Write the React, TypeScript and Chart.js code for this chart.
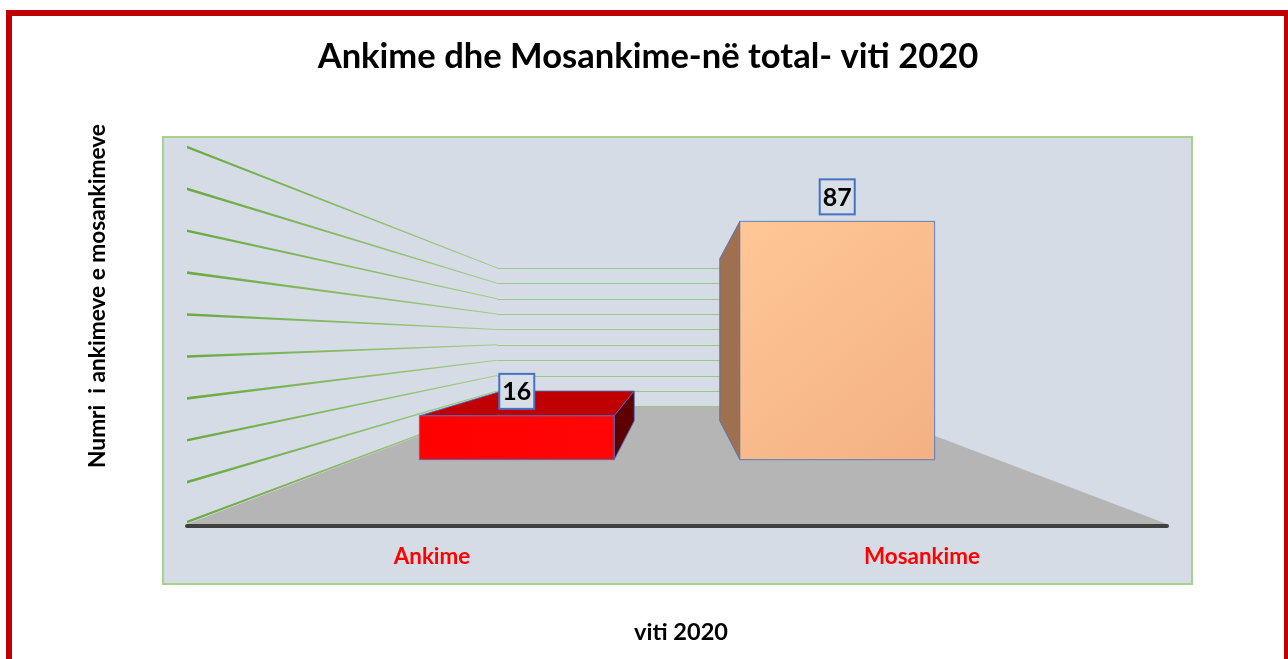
import { useEffect, useRef } from 'react';
import { Chart, registerables } from 'chart.js';

Chart.register(...registerables);

// ---- data ----
const categories = ['Ankime', 'Mosankime'];
const values = [16, 87];
const yTickValues = [0, 10, 20, 30, 40, 50, 60, 70, 80, 90];
const titleText = 'Ankime dhe Mosankime-në total- viti 2020';
const yAxisTitle = 'Numri  i ankimeve e mosankimeve';
const xAxisTitle = 'viti 2020';

// ---- styles ----
const FONT = 'Lato, "Open Sans", "Noto Sans", sans-serif';
const S_BACK = 0.367;
const S_BAR_FRONT = 0.654;
const S_BAR_BACK = 0.445;
const VY_FRAC = 0.507;
const barStyles = [
  { front: ['#FF0000', '#FF0606'], top: '#C00000', side: '#5E0000' },
  { front: ['#FFC796', '#F4B183'], top: '#E09A6A', side: '#9E7050' },
];

function fitSize(ctx: CanvasRenderingContext2D, text: string, target: number, weight = 'bold') {
  ctx.font = `${weight} 100px ${FONT}`;
  const w = ctx.measureText(text).width;
  return (100 * target) / w;
}

function poly(ctx: CanvasRenderingContext2D, pts: number[][], fill: string | CanvasGradient, stroke?: string) {
  ctx.beginPath();
  ctx.moveTo(pts[0][0], pts[0][1]);
  for (let i = 1; i < pts.length; i++) ctx.lineTo(pts[i][0], pts[i][1]);
  ctx.closePath();
  ctx.fillStyle = fill;
  ctx.fill();
  if (stroke) {
    ctx.strokeStyle = stroke;
    ctx.lineWidth = 1;
    ctx.stroke();
  }
}

function geom(chart: any) {
  const a = chart.chartArea;
  const vx = (a.left + a.right) / 2;
  const vy = a.top + VY_FRAC * (a.bottom - a.top);
  const P = (fx: number, fy: number, s: number) => [vx + (fx - vx) * s, vy + (fy - vy) * s];
  return { a, vx, vy, P };
}

const scenePlugin = {
  id: 'scene3d',
  beforeDatasetsDraw(chart: any) {
    const ctx: CanvasRenderingContext2D = chart.ctx;
    const { a, P } = geom(chart);
    const y = chart.scales.y;
    ctx.save();
    // outer red frame
    ctx.strokeStyle = '#C00000';
    ctx.lineWidth = 6;
    ctx.strokeRect(9, 13, 1278, 720);
    // plot area
    const px = a.left - 24, py = a.top - 10, pw = a.right - a.left + 49, ph = a.bottom - a.top + 70;
    ctx.fillStyle = '#D6DCE5';
    ctx.fillRect(px, py, pw, ph);
    ctx.strokeStyle = '#A9D18E';
    ctx.lineWidth = 2;
    ctx.strokeRect(px, py, pw, ph);
    // floor
    const y0 = y.getPixelForValue(0);
    poly(ctx, [[a.left, y0], [a.right, y0], P(a.right, y0, S_BACK), P(a.left, y0, S_BACK)], '#B5B5B5');
    // back wall gridlines
    ctx.strokeStyle = '#9DC783';
    ctx.lineWidth = 1;
    for (const v of yTickValues) {
      const fy = y.getPixelForValue(v);
      const [x1, yb] = P(a.left, fy, S_BACK);
      const [x2] = P(a.right, fy, S_BACK);
      ctx.beginPath();
      ctx.moveTo(x1, Math.round(yb) + 0.5);
      ctx.lineTo(x2, Math.round(yb) + 0.5);
      ctx.stroke();
    }
    // left wall gridlines (tapered)
    for (const v of yTickValues) {
      const fy = y.getPixelForValue(v) - (v === 0 ? 2 : 0);
      const [x2, y2] = P(a.left, fy, S_BACK);
      const x1 = a.left;
      const g = ctx.createLinearGradient(x1, 0, x2, 0);
      g.addColorStop(0, '#6BAA42');
      g.addColorStop(1, '#A2CC88');
      poly(ctx, [[x1, fy - 1.3], [x2, y2 - 0.5], [x2, y2 + 0.5], [x1, fy + 1.3]], g);
    }
    // floor front edge
    ctx.strokeStyle = '#404040';
    ctx.lineWidth = 4;
    ctx.lineCap = 'round';
    ctx.beginPath();
    ctx.moveTo(a.left, y0 + 2);
    ctx.lineTo(a.right, y0 + 2);
    ctx.stroke();
    ctx.restore();
  },
  afterDatasetsDraw(chart: any) {
    const ctx: CanvasRenderingContext2D = chart.ctx;
    const { vx, vy, P } = geom(chart);
    const meta = chart.getDatasetMeta(0);
    const outline = 'rgba(68,114,196,0.85)';
    ctx.save();
    meta.data.forEach((bar: any, i: number) => {
      const { x, y: top, base, width } = bar.getProps(['x', 'y', 'base', 'width'], true);
      const st = barStyles[i];
      const l = x - width / 2, r = x + width / 2;
      const F = (fx: number, fy: number) => P(fx, fy, S_BAR_FRONT);
      const B = (fx: number, fy: number) => P(fx, fy, S_BAR_BACK);
      if (top > vy) poly(ctx, [F(l, top), B(l, top), B(r, top), F(r, top)], st.top, outline);
      if (r < vx) poly(ctx, [F(r, top), B(r, top), B(r, base), F(r, base)], st.side, outline);
      else if (l > vx) poly(ctx, [F(l, top), B(l, top), B(l, base), F(l, base)], st.side, outline);
      const [fl, ft] = F(l, top);
      const [fr, fb] = F(r, base);
      const g = ctx.createLinearGradient(fl, ft, fr, fb);
      g.addColorStop(0, st.front[0]);
      g.addColorStop(1, st.front[1]);
      poly(ctx, [[fl, ft], [fr, ft], [fr, fb], [fl, fb]], g, outline);
      // value label box
      const label = String(chart.data.datasets[0].data[i]);
      ctx.font = `bold 25px ${FONT}`;
      const tw = ctx.measureText(label).width;
      const bw = tw + 6, bh = 35;
      const cx = (fl + fr) / 2;
      const bb = ft - 7;
      ctx.fillStyle = '#D9DEE7';
      ctx.fillRect(cx - bw / 2, bb - bh, bw, bh);
      ctx.strokeStyle = '#4472C4';
      ctx.lineWidth = 2;
      ctx.strokeRect(cx - bw / 2, bb - bh, bw, bh);
      ctx.fillStyle = '#000000';
      ctx.textAlign = 'center';
      ctx.textBaseline = 'middle';
      ctx.fillText(label, cx, bb - bh / 2 + 1);
    });
    ctx.restore();
  },
  afterDraw(chart: any) {
    const ctx: CanvasRenderingContext2D = chart.ctx;
    const a = chart.chartArea;
    const xs = chart.scales.x;
    ctx.save();
    ctx.textAlign = 'center';
    ctx.textBaseline = 'middle';
    ctx.fillStyle = '#000000';
    // title
    let sz = fitSize(ctx, titleText, 661);
    ctx.font = `bold ${sz}px ${FONT}`;
    ctx.fillText(titleText, 648, 57);
    // x axis title
    sz = fitSize(ctx, xAxisTitle, 94);
    ctx.font = `bold ${sz}px ${FONT}`;
    ctx.fillText(xAxisTitle, 681, 632);
    // y axis title
    sz = fitSize(ctx, yAxisTitle, 344);
    ctx.font = `bold ${sz}px ${FONT}`;
    ctx.save();
    ctx.translate(98, 296);
    ctx.rotate(-Math.PI / 2);
    ctx.fillText(yAxisTitle, 0, 0);
    ctx.restore();
    // category labels
    sz = fitSize(ctx, categories[1], 116);
    ctx.font = `bold ${sz}px ${FONT}`;
    ctx.fillStyle = '#FF0000';
    categories.forEach((c, i) => {
      ctx.fillText(c, xs.getPixelForValue(i), a.bottom + 33);
    });
    ctx.restore();
  },
};

export default function App() {
  const ref = useRef<HTMLCanvasElement | null>(null);
  useEffect(() => {
    if (!ref.current) return;
    const chart = new Chart(ref.current, {
      type: 'bar',
      data: {
        labels: categories,
        datasets: [
          {
            label: 'viti 2020',
            data: values,
            backgroundColor: 'rgba(0,0,0,0)',
            borderWidth: 0,
            categoryPercentage: 1,
            barPercentage: 0.608,
          },
        ],
      },
      options: {
        responsive: false,
        animation: false,
        devicePixelRatio: 1,
        layout: { padding: { left: 187, right: 121, top: 147, bottom: 135 } },
        plugins: { legend: { display: false }, tooltip: { enabled: false }, title: { display: false } },
        scales: {
          x: { display: false },
          y: { display: false, min: 0, max: 90, ticks: { stepSize: 10 } },
        },
      },
      plugins: [scenePlugin],
    });
    return () => chart.destroy();
  }, []);
  return (
    <div style={{ position: 'absolute', left: 0, top: 0, width: 1288, height: 659, background: '#fff' }}>
      <canvas ref={ref} width={1288} height={659} style={{ display: 'block' }} />
    </div>
  );
}
